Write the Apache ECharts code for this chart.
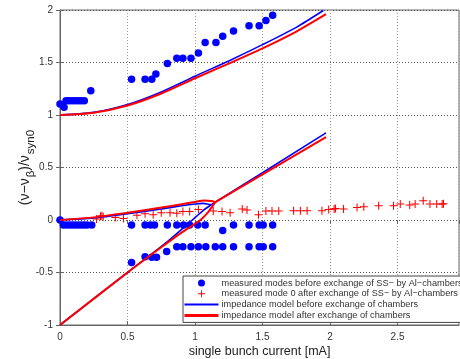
<!DOCTYPE html>
<html>
<head>
<meta charset="utf-8">
<script src="https://cdn.jsdelivr.net/npm/echarts@6/dist/echarts.min.js"></script>
<style>html,body{margin:0;padding:0;background:#fff;}#c{width:460px;height:359px;}</style>
</head>
<body>
<div id="c"></div>
<script>
// ---- data ----
const xTicks = [0, 0.5, 1, 1.5, 2, 2.5];
const yTicks = [-1, -0.5, 0, 0.5, 1, 1.5, 2];

const legendNames = [
  'measured modes before exchange of SS\u2212 by Al\u2212chambers',
  'measured mode 0 after exchange of SS\u2212 by Al\u2212chambers',
  'impedance model before exchange of chambers',
  'impedance model after exchange of chambers'
];

// measured modes before exchange (blue dots)
const modesBeforeUpper = [[0,1.105],[0.03,1.075],[0.045,1.135],[0.067,1.135],[0.09,1.135],[0.112,1.135],[0.135,1.135],[0.157,1.135],[0.18,1.135],[0.228,1.23],[0.53,1.34],[0.63,1.34],[0.68,1.34],[0.71,1.39],[0.795,1.49],[0.865,1.54],[0.91,1.54],[0.97,1.54],[1.025,1.59],[1.075,1.69],[1.155,1.69],[1.205,1.75],[1.285,1.80],[1.40,1.85],[1.475,1.85],[1.525,1.90],[1.575,1.95]];
const modesBeforeZero = [[0,0.0],[0.025,-0.048],[0.05,-0.048],[0.075,-0.048],[0.1,-0.048],[0.125,-0.048],[0.15,-0.048],[0.175,-0.048],[0.2,-0.048],[0.235,-0.048],[0.53,-0.048],[0.63,-0.048],[0.67,-0.048],[0.70,-0.048],[0.795,-0.048],[0.865,-0.048],[0.915,-0.048],[0.96,-0.048],[1.02,-0.048],[1.075,-0.048],[1.285,-0.048],[1.40,-0.048],[1.475,-0.048],[1.505,-0.048],[1.575,-0.048],[1.205,-0.10]];
const modesBeforeLower = [[0.865,-0.254],[0.91,-0.254],[0.97,-0.254],[1.025,-0.254],[1.08,-0.254],[1.15,-0.254],[1.205,-0.254],[1.285,-0.254],[1.40,-0.254],[1.475,-0.254],[1.505,-0.254],[1.575,-0.254],[0.53,-0.405],[0.63,-0.35],[0.68,-0.355],[0.715,-0.355],[0.79,-0.30]];

// measured mode 0 after exchange (red crosses)
const modeZeroAfter = [[0.27,0.01],[0.30,0.035],[0.31,0.04],[0.32,0.03],[0.41,0.025],[0.47,0.015],[0.57,0.045],[0.63,0.06],[0.69,0.05],[0.75,0.07],[0.815,0.07],[0.865,0.065],[0.91,0.08],[0.96,0.08],[1.025,0.10],[1.135,0.085],[1.20,0.08],[1.26,0.07],[1.35,0.105],[1.385,0.095],[1.47,0.05],[1.525,0.085],[1.57,0.085],[1.62,0.085],[1.73,0.088],[1.78,0.088],[1.83,0.088],[1.94,0.088],[1.99,0.10],[2.03,0.105],[2.04,0.11],[2.10,0.105],[2.20,0.12],[2.25,0.127],[2.36,0.136],[2.47,0.136],[2.52,0.152],[2.59,0.143],[2.63,0.152],[2.69,0.184],[2.74,0.152],[2.79,0.152],[2.83,0.152],[2.84,0.155]];

// impedance model before exchange (blue lines)
const modelBeforeUpper = [[0,1.0],[0.25,1.025],[0.5,1.10],[0.75,1.22],[1.0,1.37],[1.25,1.515],[1.5,1.67],[1.75,1.835],[1.95,1.995]];
const modelBeforeMode0 = [[0,0],[0.25,0.02],[0.5,0.06],[0.75,0.105],[0.9,0.135],[1.0,0.152],[1.06,0.158],[1.1,0.15],[1.12,0.145]];
const modelBeforeModeM1 = [[0,-1],[0.5,-0.5],[0.8,-0.2],[0.98,0.0],[1.06,0.09],[1.12,0.145]];
const modelBeforeCoupled = [[1.12,0.145],[1.5,0.45],[1.97,0.83]];

// impedance model after exchange (red lines)
const modelAfterUpper = [[0,1.0],[0.25,1.022],[0.5,1.09],[0.75,1.205],[1.0,1.35],[1.25,1.49],[1.5,1.635],[1.75,1.795],[1.97,1.96]];
const modelAfterMode0 = [[0,0],[0.25,0.025],[0.5,0.07],[0.75,0.118],[0.9,0.15],[1.0,0.172],[1.07,0.185],[1.12,0.18],[1.15,0.17]];
const modelAfterModeM1 = [[0,-1],[0.5,-0.5],[0.75,-0.26],[0.9,-0.12],[1.04,0.0],[1.1,0.08],[1.15,0.17]];
const modelAfterCoupled = [[1.15,0.17],[1.97,0.79]];

// ---- chart ----
const FONT = 'Liberation Sans, Arial, Helvetica, sans-serif';
const BLUE = '#0000ff', RED = '#ff0000';
const crossPath = 'path://M-0.13,-1 L0.13,-1 L0.13,-0.13 L1,-0.13 L1,0.13 L0.13,0.13 L0.13,1 L-0.13,1 L-0.13,0.13 L-1,0.13 L-1,-0.13 L-0.13,-0.13 Z';

function lineSeries(name, data, color, width, smooth) {
  return {
    type: 'line', name: name, data: data, showSymbol: false, symbol: 'none',
    smooth: smooth ? 0.25 : false,
    lineStyle: { color: color, width: width }, itemStyle: { color: color },
    silent: true, animation: false, z: 3
  };
}

const chart = echarts.init(document.getElementById('c'), null, { renderer: 'canvas' });
const xMin = xTicks[0], yMin = yTicks[0], yMax = yTicks[yTicks.length - 1];
const xMax = 2.955;
const axisLabelStyle = { color: '#333', fontSize: 10, fontFamily: FONT };

chart.setOption({
  animation: false,
  backgroundColor: '#fff',
  grid: { left: 60, right: 1, top: 10, bottom: 34, containLabel: false, outerBoundsMode: 'none',
          show: true, borderColor: '#666', borderWidth: 1, backgroundColor: 'transparent' },
  xAxis: [{
    type: 'value', min: xMin, max: xMax, interval: 0.5,
    name: 'single bunch current [mA]', nameLocation: 'middle', nameGap: 20, nameMoveOverlap: false,
    nameTextStyle: { fontSize: 12.5, color: '#222', fontFamily: FONT },
    axisLine: { show: true, onZero: false, lineStyle: { color: '#666', width: 1 } },
    axisTick: { show: true, inside: true, length: 4, lineStyle: { color: '#666' } },
    axisLabel: Object.assign({ margin: 7, showMaxLabel: false,
      formatter: v => (xTicks.indexOf(Math.round(v * 100) / 100) >= 0 ? String(v) : '') }, axisLabelStyle),
    splitLine: { show: true, lineStyle: { color: '#9a9a9a', type: [1, 2], width: 1 } }
  }, {
    type: 'value', position: 'top', min: xMin, max: xMax, interval: 0.5,
    axisLine: { show: false }, axisLabel: { show: false },
    axisTick: { show: true, inside: true, length: 4, lineStyle: { color: '#666' } },
    splitLine: { show: false }
  }],
  yAxis: [{
    type: 'value', min: yMin, max: yMax, interval: 0.5,
    name: '{a|(\u03bd\u2212\u03bd}{s|\u03b2}{a|)/\u03bd}{s|syn0}',
    nameLocation: 'middle', nameGap: 23, nameRotate: 90, nameMoveOverlap: false,
    nameTextStyle: {
      color: '#222', fontFamily: FONT,
      rich: {
        a: { fontSize: 14, color: '#222', fontFamily: FONT },
        s: { fontSize: 11.5, color: '#222', fontFamily: FONT, padding: [12, 0, 0, 1] }
      }
    },
    axisLine: { show: true, onZero: false, lineStyle: { color: '#666', width: 1 } },
    axisTick: { show: true, inside: true, length: 4, lineStyle: { color: '#666' } },
    axisLabel: Object.assign({ margin: 7 }, axisLabelStyle),
    splitLine: { show: true, lineStyle: { color: '#555', type: [1, 2], width: 1 } }
  }, {
    type: 'value', position: 'right', min: yMin, max: yMax, interval: 0.5,
    axisLine: { show: false }, axisLabel: { show: false },
    axisTick: { show: true, inside: true, length: 4, lineStyle: { color: '#666' } },
    splitLine: { show: false }
  }],
  legend: {
    orient: 'vertical', left: 183, top: 276,
    itemWidth: 34, itemHeight: 7, itemGap: 0.8,
    padding: [2, 3, 2, 0],
    backgroundColor: '#fff', borderColor: '#444', borderWidth: 1,
    textStyle: { fontSize: 9.2, color: '#333', fontFamily: FONT, lineHeight: 10, padding: [0, 0, 0, -2] },
    data: [
      { name: legendNames[0] },
      { name: legendNames[1] },
      { name: legendNames[2], lineStyle: { width: 2 }, itemStyle: { color: 'transparent', borderWidth: 0, opacity: 0 } },
      { name: legendNames[3], lineStyle: { width: 3 }, itemStyle: { color: 'transparent', borderWidth: 0, opacity: 0 } }
    ]
  },
  series: [
    {
      type: 'scatter', name: legendNames[0],
      data: modesBeforeUpper.concat(modesBeforeZero, modesBeforeLower),
      symbol: 'circle', symbolSize: 7.5, itemStyle: { color: BLUE, opacity: 1 }, z: 2
    },
    {
      type: 'scatter', name: legendNames[1], data: modeZeroAfter,
      symbol: crossPath, symbolSize: 8, itemStyle: { color: RED, opacity: 1 }, z: 2
    },
    lineSeries(legendNames[2], modelBeforeUpper, BLUE, 1.6, true),
    lineSeries(legendNames[2], modelBeforeMode0, BLUE, 1.6, true),
    lineSeries(legendNames[2], modelBeforeModeM1, BLUE, 1.6, true),
    lineSeries(legendNames[2], modelBeforeCoupled, BLUE, 1.6, false),
    lineSeries(legendNames[3], modelAfterUpper, RED, 2, true),
    lineSeries(legendNames[3], modelAfterMode0, RED, 2, true),
    lineSeries(legendNames[3], modelAfterModeM1, RED, 2, true),
    lineSeries(legendNames[3], modelAfterCoupled, RED, 2, false)
  ]
});
</script>
</body>
</html>
